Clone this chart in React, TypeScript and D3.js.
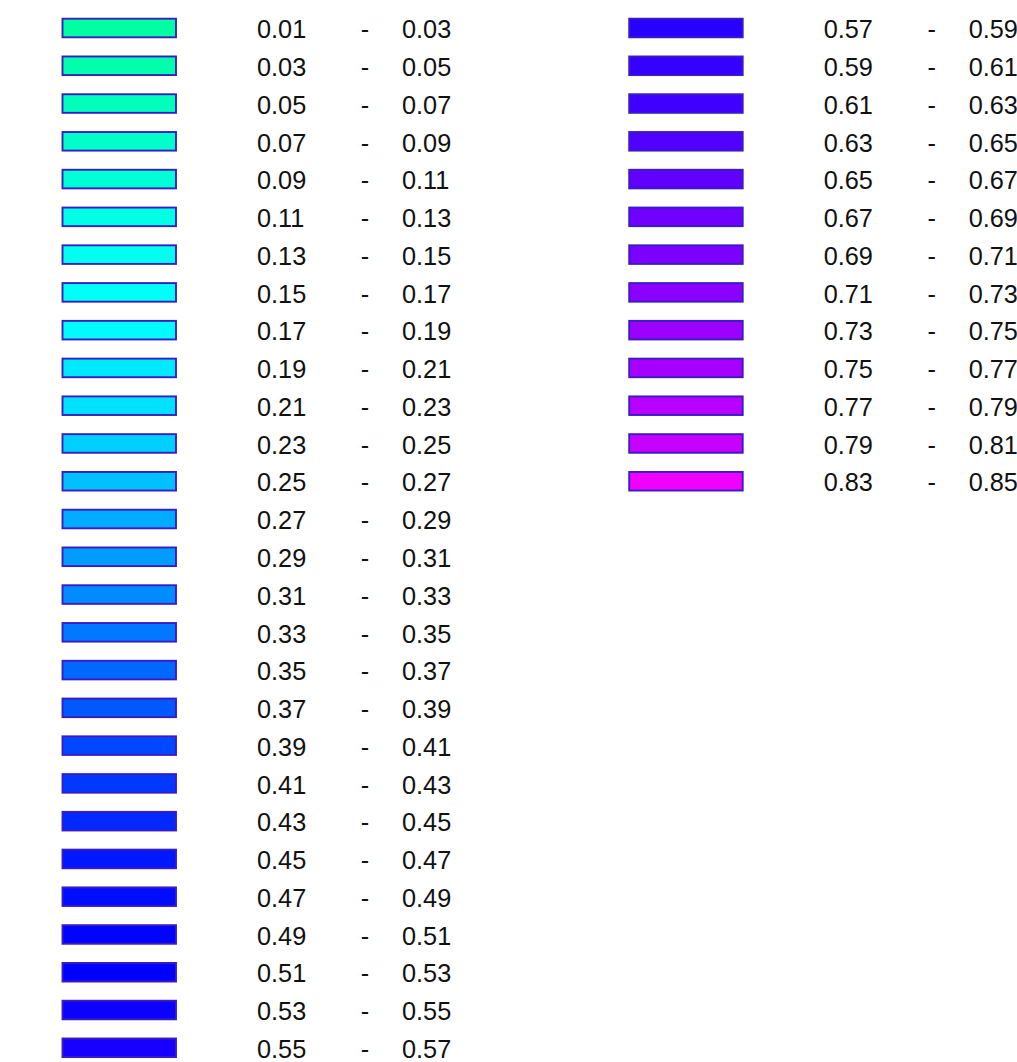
import React from "react";
import * as d3 from "d3";

const lowerBounds = [
  "0.01","0.03","0.05","0.07","0.09","0.11","0.13","0.15","0.17","0.19",
  "0.21","0.23","0.25","0.27","0.29","0.31","0.33","0.35","0.37","0.39",
  "0.41","0.43","0.45","0.47","0.49","0.51","0.53","0.55",
  "0.57","0.59","0.61","0.63","0.65","0.67","0.69","0.71","0.73","0.75",
  "0.77","0.79","0.83",
];
const upperBounds = [
  "0.03","0.05","0.07","0.09","0.11","0.13","0.15","0.17","0.19","0.21",
  "0.23","0.25","0.27","0.29","0.31","0.33","0.35","0.37","0.39","0.41",
  "0.43","0.45","0.47","0.49","0.51","0.53","0.55","0.57",
  "0.59","0.61","0.63","0.65","0.67","0.69","0.71","0.73","0.75","0.77",
  "0.79","0.81","0.85",
];
const fillColors = [
  "#00ffa0","#00ffaa","#00ffb8","#00ffc8","#00ffd6","#00ffe4","#00fff0","#00fff8","#00fcff","#00eaff",
  "#00e0ff","#00d0ff","#00c0ff","#00acff","#009cff","#008cff","#0078ff","#0068ff","#0058ff","#0048ff",
  "#0038ff","#0028ff","#0018ff","#000cff","#0004ff","#0000ff","#0c00ff","#1800ff",
  "#2800ff","#3400ff","#4000ff","#5000ff","#6000ff","#7000ff","#7c00ff","#8c00ff","#9c00ff","#a800ff",
  "#b800ff","#c800ff","#f000ff",
];

const ROWS_PER_COL = 28;
const W = 1017;
const H = 1062;

export default function App() {
  const rowY = d3.scaleLinear().domain([0, ROWS_PER_COL - 1]).range([28, 28 + 37.77 * (ROWS_PER_COL - 1)]);
  const colX = d3.scaleLinear().domain([0, 1]).range([0, 566.7]);
  const items = lowerBounds.map((lo, i) => ({
    lo,
    hi: upperBounds[i],
    color: fillColors[i],
    col: Math.floor(i / ROWS_PER_COL),
    row: i % ROWS_PER_COL,
  }));
  return (
    <svg
      width={W}
      height={H}
      style={{ position: "absolute", left: 0, top: 0, background: "#fff" }}
      fontFamily="'Liberation Sans', Arial, Helvetica, sans-serif"
      fontSize={25.3}
    >
      <rect x={0} y={0} width={W} height={H} fill="#fff" />
      {items.map((d, i) => {
        const x0 = colX(d.col);
        const cy = rowY(d.row);
        return (
          <g key={i} transform={`translate(${x0},${cy})`}>
            <rect x={62.5} y={-9.3} width={113.5} height={18.6} fill={d.color} stroke="#3a1cc4" strokeWidth={1.9} />
            <text x={257} y={10.2} fill="#111">{d.lo}</text>
            <text x={365} y={10.2} fill="#111" textAnchor="middle">-</text>
            <text x={402} y={10.2} fill="#111">{d.hi}</text>
          </g>
        );
      })}
    </svg>
  );
}
